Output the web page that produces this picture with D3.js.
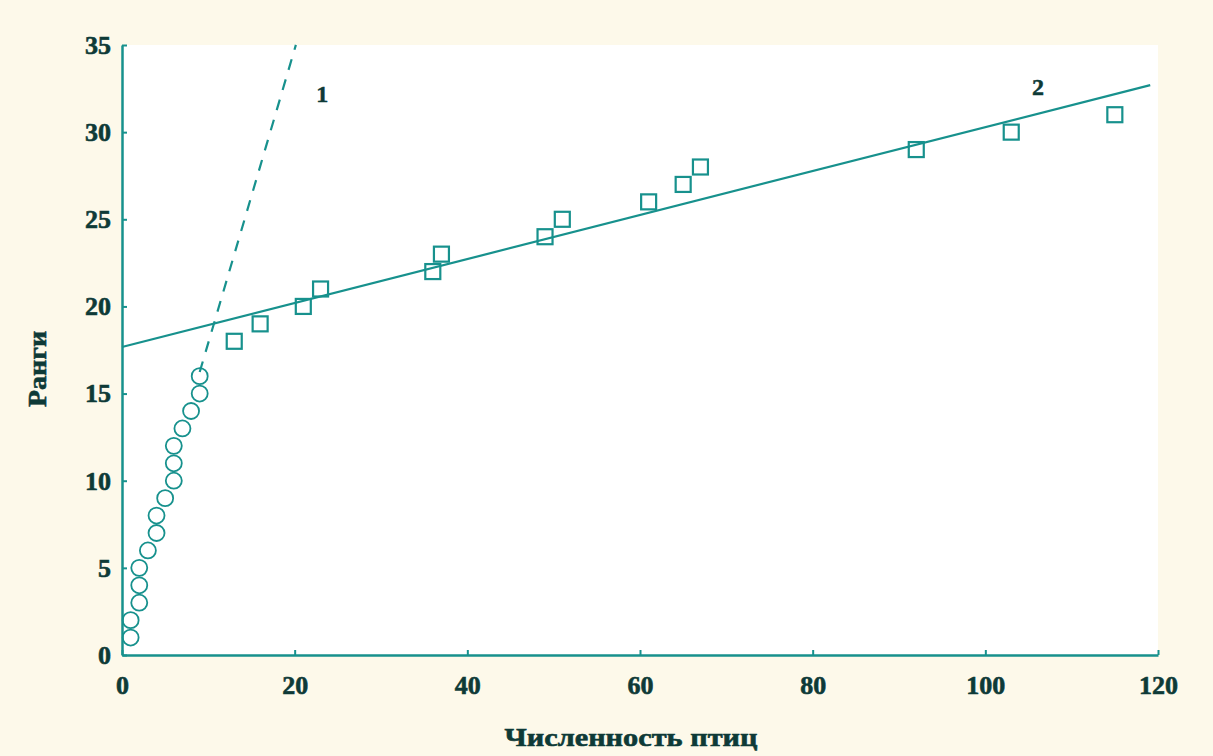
<!DOCTYPE html>
<html>
<head>
<meta charset="utf-8">
<script src="https://cdn.jsdelivr.net/npm/d3@7"></script>
<style>
  html, body { margin: 0; padding: 0; background: #fdf9ea; }
  svg { display: block; }
  text { font-family: "Liberation Serif", "DejaVu Serif", serif; font-weight: bold; fill: #0e3a37; }
</style>
</head>
<body>
<svg id="chart" width="1213" height="756"></svg>
<script>
// Group 1: small counts (circles) and their ranks
const countsSmall = [1, 1, 2, 2, 2, 3, 4, 4, 5, 6, 6, 6, 7, 8, 9, 9];
const ranksSmall  = [1, 2, 3, 4, 5, 6, 7, 8, 9, 10, 11, 12, 13, 14, 15, 16];

// Group 2: large counts (squares) and their ranks
const countsLarge = [13, 16, 21, 23, 36, 37, 49, 51, 61, 65, 67, 92, 103, 115];
const ranksLarge  = [18, 19, 20, 21, 22, 23, 24, 25, 26, 27, 28, 29, 30, 31];

// Fitted lines: intercept, slope and the span of counts they cover
const fit1 = { intercept: 1.07, slope: 1.685, from: 9.0, to: 20.14 };
const fit2 = { intercept: 17.67, slope: 0.1262, from: 0, to: 119.1 };

// Axis ticks and titles
const xTicks = [0, 20, 40, 60, 80, 100, 120];
const yTicks = [0, 5, 10, 15, 20, 25, 30, 35];
const xTitle = "Численность птиц";
const yTitle = "Ранги";
const lineLabels = [
  { text: "1", x: 23.2, y: 32.2 },
  { text: "2", x: 106.1, y: 32.6 }
];

const teal = "#17918d";
const svg = d3.select("#chart");

const x = d3.scaleLinear().domain([0, 120]).range([122, 1158]);
const y = d3.scaleLinear().domain([0, 35]).range([655, 45]);

// White plotting field
svg.append("rect")
  .attr("x", x(0)).attr("y", y(35))
  .attr("width", x(120) - x(0)).attr("height", y(0) - y(35))
  .attr("fill", "#ffffff");

// Axes with inward ticks
const xAxis = svg.append("g")
  .attr("transform", `translate(0,${y(0)})`)
  .call(d3.axisBottom(x).tickValues(xTicks).tickFormat(d3.format("d"))
    .tickSizeInner(-5).tickSizeOuter(0).tickPadding(21));
const yAxis = svg.append("g")
  .attr("transform", `translate(${x(0)},0)`)
  .call(d3.axisLeft(y).tickValues(yTicks).tickFormat(d3.format("d"))
    .tickSizeInner(-5).tickSizeOuter(0).tickPadding(11));

[xAxis, yAxis].forEach(g => {
  g.select(".domain").attr("stroke", teal).attr("stroke-width", 2.5);
  g.selectAll(".tick line").attr("stroke", teal).attr("stroke-width", 2);
  g.selectAll(".tick text")
    .attr("fill", "#0e3a37")
    .attr("stroke", "#0e3a37").attr("stroke-width", 0.6)
    .style("font-family", '"Liberation Serif", "DejaVu Serif", serif')
    .style("font-weight", "bold")
    .style("font-size", "26px");
});

// Fitted lines
const fitLine = d3.line().x(d => x(d[0])).y(d => y(d[1]));
function fitPoints(f) {
  return [f.from, f.to].map(c => [c, f.intercept + f.slope * c]);
}
svg.append("path")
  .attr("d", fitLine(fitPoints(fit1)))
  .attr("fill", "none").attr("stroke", teal)
  .attr("stroke-width", 2.2).attr("stroke-dasharray", "11,10");
svg.append("path")
  .attr("d", fitLine(fitPoints(fit2)))
  .attr("fill", "none").attr("stroke", teal)
  .attr("stroke-width", 2.2);

// Circles: group 1
svg.append("g").selectAll("circle")
  .data(countsSmall.map((c, i) => [c, ranksSmall[i]]))
  .join("circle")
  .attr("cx", d => x(d[0])).attr("cy", d => y(d[1]))
  .attr("r", 8)
  .attr("fill", "none").attr("stroke", teal).attr("stroke-width", 1.8);

// Squares: group 2
const side = 15;
svg.append("g").selectAll("rect")
  .data(countsLarge.map((c, i) => [c, ranksLarge[i]]))
  .join("rect")
  .attr("x", d => x(d[0]) - side / 2).attr("y", d => y(d[1]) - side / 2)
  .attr("width", side).attr("height", side)
  .attr("fill", "none").attr("stroke", teal).attr("stroke-width", 2.2);

// Line labels
svg.append("g").selectAll("text")
  .data(lineLabels)
  .join("text")
  .attr("x", d => x(d.x)).attr("y", d => y(d.y))
  .attr("text-anchor", "middle").attr("dy", "0.35em")
  .attr("stroke", "#0e3a37").attr("stroke-width", 0.5)
  .style("font-size", "24px")
  .text(d => d.text);

// Axis titles
svg.append("text")
  .attr("x", 631).attr("y", 746)
  .attr("text-anchor", "middle")
  .attr("textLength", 253).attr("lengthAdjust", "spacingAndGlyphs")
  .attr("stroke", "#0e3a37").attr("stroke-width", 0.6)
  .style("font-size", "26px")
  .text(xTitle);
svg.append("text")
  .attr("transform", "translate(46,369) rotate(-90)")
  .attr("text-anchor", "middle")
  .attr("textLength", 76).attr("lengthAdjust", "spacingAndGlyphs")
  .attr("stroke", "#0e3a37").attr("stroke-width", 0.6)
  .style("font-size", "26px")
  .text(yTitle);
</script>
</body>
</html>
